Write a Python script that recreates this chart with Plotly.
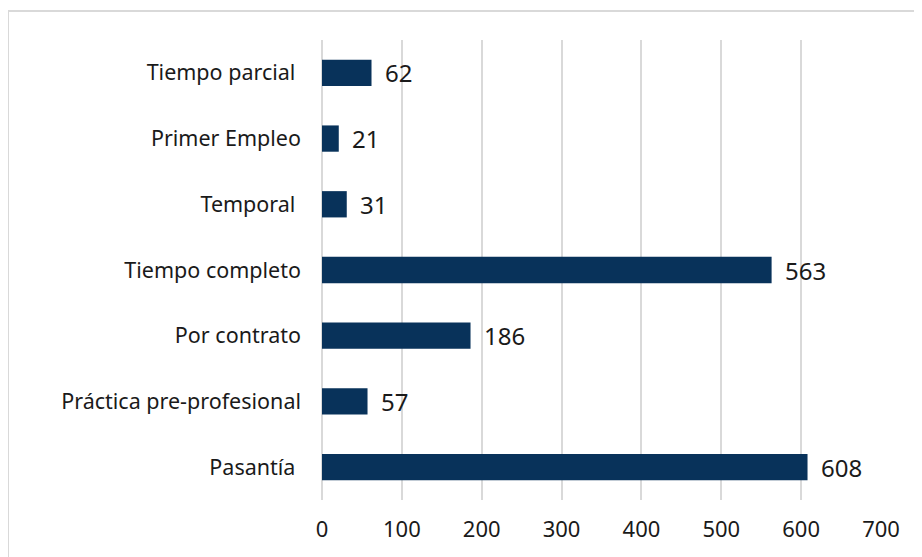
import plotly.graph_objects as go

# Categories listed bottom to top (as plotted)
categorias = ["Pasantía\u00a0", "Práctica pre-profesional", "Por contrato",
              "Tiempo completo", "Temporal\u00a0", "Primer Empleo", "Tiempo parcial\u00a0"]
valores = [608, 57, 186, 563, 31, 21, 62]
ticks_x = [0, 100, 200, 300, 400, 500, 600, 700]

bar_color = "#08325A"
grid_color = "#D9D9D9"
font_family = "'Noto Sans', 'Open Sans', sans-serif"

fig = go.Figure()
fig.add_trace(go.Bar(
    x=valores, y=categorias, orientation="h",
    marker=dict(color=bar_color, line=dict(width=0)),
    hoverinfo="x+y",
))

# data labels to the right of each bar
for cat, val in zip(categorias, valores):
    fig.add_annotation(x=val, y=cat, text=str(val), showarrow=False,
                       xanchor="left", xshift=11,
                       font=dict(size=24, color="#1A1A1A", family=font_family))

# light outer border like the original chart area
fig.add_shape(type="rect", xref="paper", yref="paper",
              x0=-0.5617, x1=1.0716, y0=-0.3, y1=1.063,
              line=dict(color=grid_color, width=2), fillcolor="rgba(0,0,0,0)",
              layer="below")

# the page body has an 8px margin, so margins are trimmed to compensate
fig.update_layout(
    width=922, height=557,
    margin=dict(l=314, r=49, t=32, b=65),
    paper_bgcolor="white", plot_bgcolor="white",
    bargap=0.6,
    showlegend=False,
    font=dict(family=font_family, size=19, color="#1A1A1A"),
    xaxis=dict(range=[0, 700], tickvals=ticks_x, showgrid=True,
               gridcolor=grid_color, gridwidth=1.5, zeroline=True,
               zerolinecolor=grid_color, zerolinewidth=1.5,
               showline=False, ticks="", tickfont=dict(size=22),
               ticklabelstandoff=14, fixedrange=True),
    yaxis=dict(range=[-0.5, 6.5], showgrid=False, zeroline=False,
               showline=False, ticks="", ticklabelstandoff=20,
               tickfont=dict(size=21.5), fixedrange=True),
)

fig.write_html("out.html", config={"displayModeBar": False})
